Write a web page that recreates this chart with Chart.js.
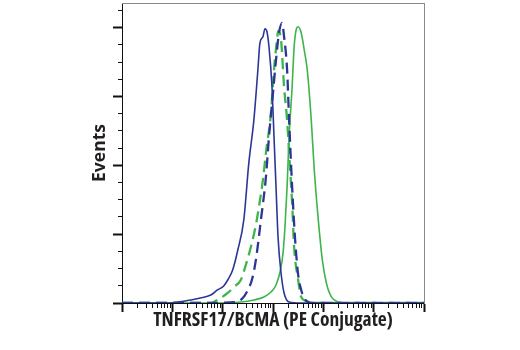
<!DOCTYPE html>
<html>
<head>
<meta charset="utf-8">
<script src="https://cdn.jsdelivr.net/npm/chart.js@4/dist/chart.umd.min.js"></script>
<style>
html,body{margin:0;padding:0;background:#ffffff;}
#wrap{width:520px;height:350px;}
</style>
</head>
<body>
<div id="wrap"><canvas id="c" width="520" height="350"></canvas></div>
<script>
// ---- Text ----
const xTitle = 'TNFRSF17/BCMA (PE Conjugate)';
const yTitle = 'Events';

// ---- Tick values ----
const xDecades = [1, 10, 100, 1000, 10000, 100000, 1000000];
const xMinorSteps = [2, 3, 4, 5, 6, 7, 8, 9];
const yMajorStep = 50;
const yMinorStep = 12.5;
const yMax = 218;

// ---- Series (fluorescence intensity, event count) ----
const navySolidX = [1, 9, 13, 23, 36, 58, 79, 105, 126, 158, 200, 263, 331, 417, 501, 550, 631, 692, 759, 832, 955, 1047, 1148, 1259, 1445, 1660, 2089, 3630, 1000000];
const navySolidY = [0, 0, 0.7, 2.2, 3.6, 5.8, 9.5, 12.4, 16.7, 24, 38.5, 60.4, 101.8, 133.1, 169.5, 189.1, 193.5, 199.3, 197.1, 186.2, 157.1, 120.7, 84.4, 48, 21.8, 7.3, 0.7, 0, 0];

const navyDashX = [1, 36, 182, 251, 316, 380, 457, 575, 724, 832, 1000, 1148, 1318, 1514, 1660, 1905, 2089, 2399, 2754, 3162, 3631, 4169, 5012, 6310, 1000000];
const navyDashY = [0, 0, 0.7, 3.6, 9.5, 16.7, 31.3, 60.4, 91.6, 120.7, 152.7, 176.7, 196.4, 203.6, 193.5, 169.5, 133, 84.4, 45.8, 20.4, 9.5, 3.6, 0.7, 0, 0];

const greenDashX = [1, 57.5, 66, 91, 126, 166, 229, 288, 363, 457, 525, 631, 724, 912, 1047, 1202, 1259, 1318, 1445, 1660, 1905, 2089, 2399, 2630, 3162, 3631, 4571, 5754, 1000000];
const greenDashY = [0, 0, 0.7, 3.6, 7.3, 11.6, 16.7, 27.6, 40.7, 56.7, 69.8, 89.5, 109.1, 138.2, 169.5, 191.3, 197.8, 197.1, 191.3, 157.1, 133.1, 109.1, 72.7, 40.7, 16.7, 4.4, 1.5, 0, 0];

const greenSolidX = [1, 91, 229, 417, 661, 912, 1148, 1380, 1585, 1738, 1905, 2089, 2399, 2630, 2884, 3162, 3631, 4169, 4786, 5754, 6607, 7943, 9550, 11482, 14454, 19953, 28840, 1000000];
const greenSolidY = [0, 0, 0.7, 2.2, 4.4, 8, 13.1, 22.5, 36.4, 56.7, 84.4, 120.7, 157.1, 186.2, 198.5, 200.7, 196.4, 184, 169.5, 133.1, 96.7, 60.4, 31.3, 14.5, 4.4, 0.7, 0, 0];

// ---- Build ----
const NAVY = '#2b3796';
const GREEN = '#3db54a';
const FONT = "'Open Sans', 'DejaVu Sans Condensed', sans-serif";

function pts(xs, ys) { return xs.map((x, i) => ({ x: x, y: ys[i] })); }
function ds(label, xs, ys, color, dash, width) {
  return {
    label: label,
    data: pts(xs, ys),
    borderColor: color,
    backgroundColor: color,
    borderWidth: width,
    borderDash: dash,
    pointRadius: 0,
    fill: false,
    cubicInterpolationMode: 'monotone'
  };
}

const xTickValues = [];
xDecades.forEach((d, i) => {
  xTickValues.push(d);
  if (i < xDecades.length - 1) xMinorSteps.forEach(m => xTickValues.push(d * m));
});
function isDecade(v) { return xDecades.indexOf(v) >= 0; }
function isYMajor(v) { return Math.abs(v % yMajorStep) < 1e-9; }

new Chart(document.getElementById('c').getContext('2d'), {
  type: 'line',
  data: {
    datasets: [
      ds('Solid navy', navySolidX, navySolidY, NAVY, [], 1.6),
      ds('Dashed navy', navyDashX, navyDashY, NAVY, [11, 6], 2.3),
      ds('Dashed green', greenDashX, greenDashY, GREEN, [11, 6], 2.3),
      ds('Solid green', greenSolidX, greenSolidY, GREEN, [], 1.6)
    ]
  },
  options: {
    responsive: false,
    animation: false,
    devicePixelRatio: 1,
    layout: { padding: { left: 86, right: 96, top: 3, bottom: 16.45 } },
    plugins: { legend: { display: false }, tooltip: { enabled: false } },
    scales: {
      x: {
        type: 'logarithmic',
        position: 'bottom',
        min: 1,
        max: 1000000,
        afterBuildTicks: (axis) => { axis.ticks = xTickValues.map(v => ({ value: v })); },
        ticks: { display: false, autoSkip: false },
        grid: {
          drawOnChartArea: false,
          drawTicks: true,
          tickLength: 9,
          tickColor: '#111111',
          tickWidth: (c) => (c.tick && isDecade(c.tick.value)) ? 2 : 1,
          tickBorderDash: (c) => (c.tick && isDecade(c.tick.value)) ? [] : [4, 20]
        },
        border: { display: true, color: '#111111', width: 1 },
        title: {
          display: true, text: xTitle, color: '#231f20',
          font: { family: FONT, size: 19.5, weight: 'bold condensed', lineHeight: 0.9 },
          padding: { top: 0, bottom: 4 }
        }
      },
      y: {
        type: 'linear',
        position: 'left',
        min: 0,
        max: yMax,
        ticks: { display: false, stepSize: yMinorStep, includeBounds: false, autoSkip: false },
        grid: {
          drawOnChartArea: false,
          drawTicks: true,
          tickLength: 9,
          tickColor: '#111111',
          tickWidth: (c) => (c.tick && isYMajor(c.tick.value)) ? 2 : 1,
          tickBorderDash: (c) => (c.tick && isYMajor(c.tick.value)) ? [] : [0, 5, 4, 0]
        },
        border: { display: true, color: '#111111', width: 1 },
        title: {
          display: true, text: yTitle, color: '#231f20',
          font: { family: FONT, size: 17.5, weight: 'bold', lineHeight: 1.2 },
          padding: { top: 4, bottom: 2 }
        }
      },
      x2: {
        type: 'linear', position: 'top', display: true,
        ticks: { display: false },
        grid: { drawOnChartArea: false, drawTicks: false },
        border: { display: true, color: '#8a8a8a', width: 1 }
      },
      y2: {
        type: 'linear', position: 'right', display: true,
        ticks: { display: false },
        grid: { drawOnChartArea: false, drawTicks: false },
        border: { display: true, color: '#8a8a8a', width: 1 }
      }
    }
  }
});
</script>
</body>
</html>
